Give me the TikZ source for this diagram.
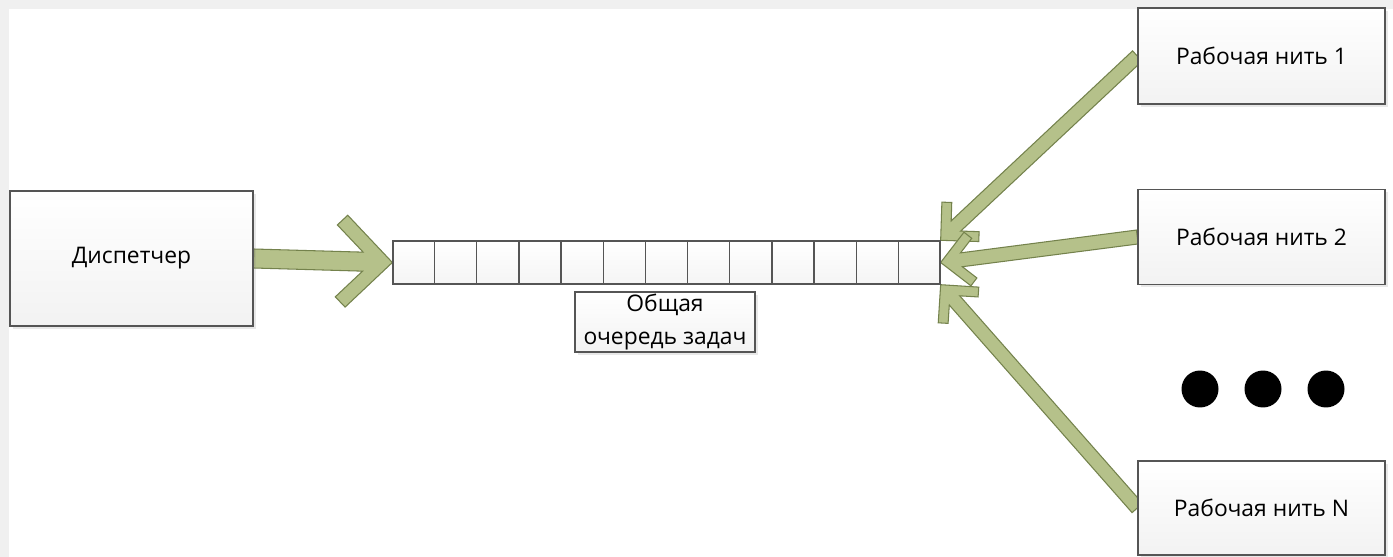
\documentclass[tikz,border=0pt]{standalone}
\usepackage{fontspec}
\setmainfont{Open Sans}
\usetikzlibrary{
  calc,
  positioning,
  shadows,
  backgrounds
}
\definecolor{arrowfill}{RGB}{181,193,138}
\definecolor{arrowline}{RGB}{116,130,76}
\definecolor{boxline}{RGB}{85,85,85}
\tikzset{
  procbox/.style={
    draw=boxline,
    line width=0.8pt,
    top color=white,
    bottom color=gray!10,
    drop shadow={opacity=0.18, shadow xshift=1.5pt, shadow yshift=-1.5pt},
    align=center,
    inner sep=0pt,
    font=\fontsize{13}{19}\selectfont,
  },
  cellrow/.style={
    draw=boxline,
    line width=0.8pt,
    top color=white,
    bottom color=gray!8,
    inner sep=0pt,
  },
  dotmark/.style={
    circle,
    fill=black,
    minimum size=0.74cm,
    inner sep=0pt,
  },
  blockarrow/.style={
    fill=arrowfill,
    draw=arrowline,
    line width=0.6pt,
    line join=miter,
  },
}
% chevron block arrow: #1 from, #2 tip, #3 half shaft, #4 arm, #5/#6 arm end, #7/#8 notch
\newcommand{\chevarrow}[8]{%
  \draw[blockarrow] (#2) -- ($(#2)!#4!45:(#1)$) -- ($(#2)!#5!#6:(#1)$)
    -- ($(#2)!#7!#8:(#1)$) -- ($(#1)!#3!-90:(#2)$) -- ($(#1)!#3!90:(#2)$)
    -- ($(#2)!#7!-#8:(#1)$) -- ($(#2)!#5!-#6:(#1)$) -- ($(#2)!#4!-45:(#1)$) -- cycle;}

\begin{document}
\begin{tikzpicture}[x=0.02cm, y=-0.02cm]
  \useasboundingbox (0,0) rectangle (1393,557);

  % Dispatcher and queue
  \node[procbox, minimum width=4.86cm, minimum height=2.7cm] (disp) at (131.5,258.5) {Диспетчер};
  \node[cellrow, minimum width=10.94cm, minimum height=0.86cm] (queue) at (666.5,262.5) {};
  \foreach \i in {1,...,12}
    \draw[boxline, line width=0.8pt] ($(queue.north west)!\i/13!(queue.north east)$) -- ($(queue.south west)!\i/13!(queue.south east)$);
  \node[procbox, minimum width=3.6cm, minimum height=1.2cm] (qlabel) at (665,322) {Общая\\очередь задач};

  % Worker threads
  \node[procbox, minimum width=4.94cm, minimum height=1.92cm] (work1) at (1261.5,56) {Рабочая нить 1};
  \node[procbox, minimum width=4.94cm, minimum height=1.9cm] (work2) at (1261.5,237) {Рабочая нить 2};
  \node[procbox, minimum width=4.94cm, minimum height=1.88cm] (workN) at (1261.5,508) {Рабочая нить N};
  \foreach \x [count=\i] in {1200,1263,1326}
    \node[dotmark] (dot\i) at (\x,389) {};

  \begin{scope}[on background layer]
    \fill[gray!12] (0,0) rectangle (1393,557);
    \fill[white] (9,9) rectangle (1393,557);
    \chevarrow{disp.east}{queue.west}{0.19cm}{1.30cm}{1.332cm}{32.7}{0.62cm}{17.85}
    \chevarrow{work1.west}{queue.north east}{0.14cm}{0.764cm}{0.788cm}{30.5}{0.442cm}{18.4}
    \chevarrow{work2.west}{queue.east}{0.14cm}{0.764cm}{0.788cm}{30.5}{0.442cm}{18.4}
    \chevarrow{workN.west}{queue.south east}{0.14cm}{0.764cm}{0.788cm}{30.5}{0.442cm}{18.4}
  \end{scope}
\end{tikzpicture}
\end{document}
